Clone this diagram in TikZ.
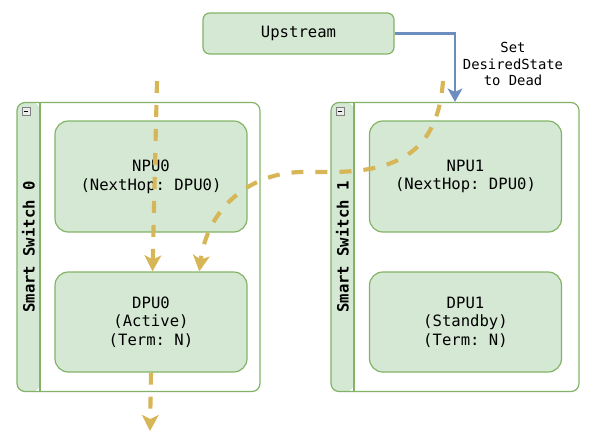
\documentclass[tikz,border=0pt]{standalone}
\usepackage{fontspec}
\setmonofont{DejaVu Sans Mono}
\usepackage{tikz}
\usetikzlibrary{positioning,arrows.meta,calc}
\definecolor{boxfill}{HTML}{D5E8D4}
\definecolor{boxline}{HTML}{82B366}
\definecolor{flowgold}{HTML}{D6B656}
\definecolor{upblue}{HTML}{6C8EBF}

\begin{document}
\begin{tikzpicture}[x=0.75pt,y=-0.75pt,
                font=\ttfamily\fontsize{11.7}{14}\selectfont,
                unit/.style={rectangle, draw=boxline, fill=boxfill, line width=0.9pt, rounded corners=10pt, minimum width=144pt, minimum height=83.25pt, align=center, inner sep=0pt},
                dpu/.style={unit, minimum height=75pt},
                switch/.style={rectangle, draw=boxline, line width=0.9pt, rounded corners=6pt, minimum height=216.75pt, inner sep=0pt,
                    path picture={\fill[boxfill] (path picture bounding box.north west) rectangle ([xshift=17.25pt]path picture bounding box.south west);
                        \draw[boxline, line width=0.9pt] ([xshift=17.25pt]path picture bounding box.north west) -- ([xshift=17.25pt]path picture bounding box.south west);}},
                header/.style={rotate=90, font=\ttfamily\bfseries\fontsize{11.7}{14}\selectfont},
                collapse/.style={rectangle, draw=gray, fill=gray!15, line width=0.5pt, minimum size=6pt, inner sep=0pt,
                    path picture={\draw[black, line width=0.6pt] ([xshift=1.3pt]path picture bounding box.west) -- ([xshift=-1.3pt]path picture bounding box.east);}},
                flow/.style={draw=flowgold, line width=3.1pt, dash pattern=on 9pt off 9pt, -{Stealth[length=12pt, width=12.5pt, inset=3pt]}},
                push/.style={draw=upblue, line width=2.2pt, -{Stealth[length=10pt, width=11pt, inset=2.5pt]}}
            ]
                \useasboundingbox (0,0) rectangle (602,437);

                \node[switch, minimum width=182.25pt] (sw0) at (138.5,247) {};
                \node[switch, minimum width=186pt] (sw1) at (455,247) {};
                \node[header] (title0) at (28.5,247) {Smart Switch 0};
                \node[header] (title1) at (342.5,247) {Smart Switch 1};
                \node[collapse] (min0) at (26,111.5) {};
                \node[collapse] (min1) at (340,111.5) {};

                \node[unit] (npu0) at (151,176.5) {NPU0 \\ (NextHop: DPU0)};
                \node[unit] (npu1) at (465.5,176.5) {NPU1 \\ (NextHop: DPU0)};
                \node[dpu] (dpu0) at (151,322) {DPU0 \\ (Active) \\ (Term: N)};
                \node[dpu] (dpu1) at (465.5,322) {DPU1 \\ (Standby) \\ (Term: N)};

                \node[unit, minimum width=143.25pt, minimum height=30.75pt, rounded corners=5pt] (upstream) at (298.5,33.5) {Upstream};
                \node[align=center, font=\ttfamily\fontsize{10.4}{12.7}\selectfont] (note) at (513,64) {Set \\ DesiredState \\ to Dead};

                \coordinate (srcA) at (157,81);
                \coordinate (srcB) at (443,81);
                \coordinate (sink) at (150,431);

                \draw[push] (upstream.east) -| (sw1.north);

                \draw[flow] (srcA) -- ($(dpu0.north)+(1.5,0)$);
                \draw[flow] (srcB) .. controls (438,150) and (400,172) .. (330,172) -- (300,172) .. controls (245,174) and (207,212) .. ($(dpu0.north)!0.5!(dpu0.north east)$);
                \draw[flow] (dpu0.south) -- (sink);
            \end{tikzpicture}
\end{document}
